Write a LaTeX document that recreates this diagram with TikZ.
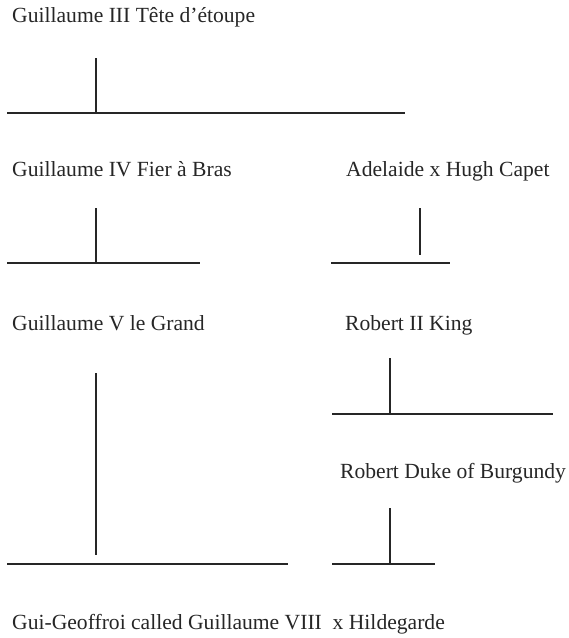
\documentclass[tikz,border=0pt]{standalone}
\usepackage{fontspec}
\setmainfont{Liberation Serif}
\begin{document}
\begin{tikzpicture}[x=1pt,y=-1pt,
  person/.style={anchor=base west,inner sep=0pt,font=\fontsize{21.6}{24}\selectfont,text=black!85},
  pline/.style={line width=1.5pt,black!85}]
\useasboundingbox (0,0) rectangle (569,638);
% names
\node[person] (g3) at (12,22) {Guillaume III Tête d’étoupe};
\node[person] (g4) at (12,176) {Guillaume IV Fier à Bras};
\node[person] (ad) at (346,176) {Adelaide x Hugh Capet};
\node[person] (g5) at (12,330) {Guillaume V le Grand};
\node[person] (r2) at (345,330) {Robert II King};
\node[person] (rb) at (340,478) {Robert Duke of Burgundy};
\node[person] (gg) at (12,629) {Gui-Geoffroi called Guillaume VIII\ \ x Hildegarde};
% line end points
\coordinate (a1) at (96,58);  \coordinate (a2) at (96,113);
\coordinate (a3) at (7,113);  \coordinate (a4) at (405,113);
\coordinate (b1) at (96,208); \coordinate (b2) at (96,263);
\coordinate (b3) at (7,263);  \coordinate (b4) at (200,263);
\coordinate (c1) at (420,208);\coordinate (c2) at (420,255);
\coordinate (c3) at (331,263);\coordinate (c4) at (450,263);
\coordinate (d1) at (96,373); \coordinate (d2) at (96,555);
\coordinate (d3) at (7,564);  \coordinate (d4) at (288,564);
\coordinate (e1) at (390,358);\coordinate (e2) at (390,414);
\coordinate (e3) at (332,414);\coordinate (e4) at (553,414);
\coordinate (f1) at (390,508);\coordinate (f2) at (390,564);
\coordinate (f3) at (332,564);\coordinate (f4) at (435,564);
\foreach \p in {a,b,c,d,e,f}{
  \draw[pline] (\p1) -- (\p2);
  \draw[pline] (\p3) -- (\p4);
}
\end{tikzpicture}
\end{document}
